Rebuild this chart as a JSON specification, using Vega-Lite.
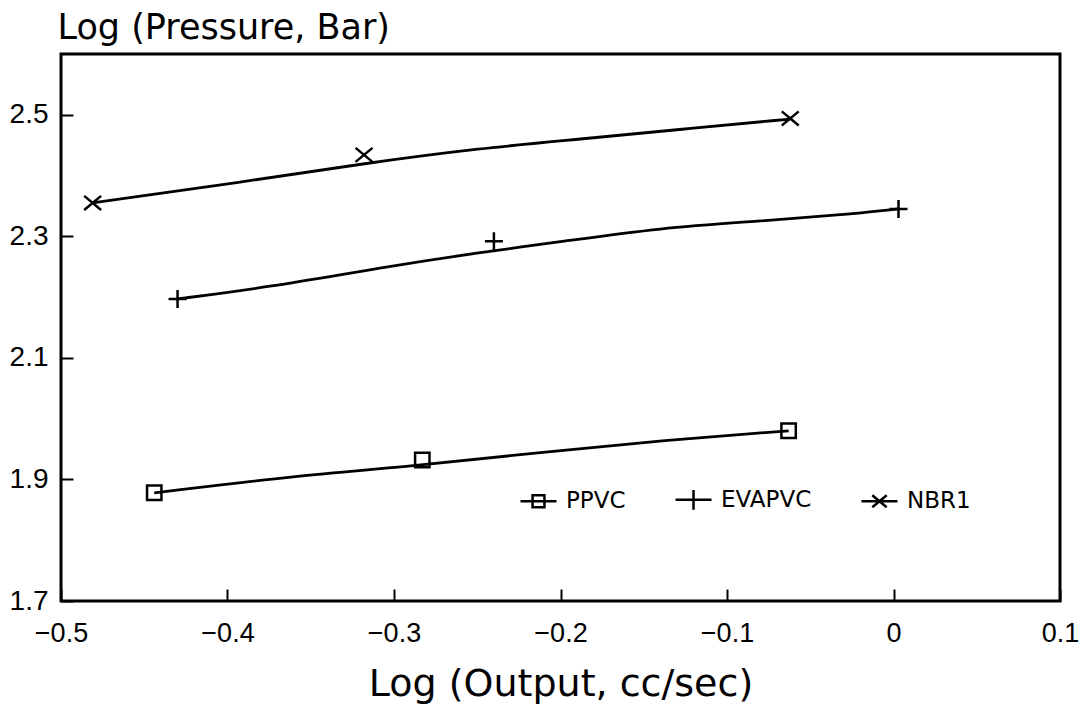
{
  "$schema": "https://vega.github.io/schema/vega-lite/v6.json",
  "width": 999,
  "height": 547,
  "autosize": {"type": "none"},
  "padding": {"left": 61, "top": 54, "right": 25, "bottom": 105},
  "background": "white",
  "config": {
    "view": {"stroke": "black", "strokeWidth": 3},
    "font": "DejaVu Sans"
  },
  "resolve": {"scale": {"shape": "independent"}, "legend": {"shape": "independent"}},
  "datasets": {
    "curves": [
      {"series": "NBR1", "x": -0.481, "y": 2.355},
      {"series": "NBR1", "x": -0.392, "y": 2.389},
      {"series": "NBR1", "x": -0.318, "y": 2.42},
      {"series": "NBR1", "x": -0.248, "y": 2.445},
      {"series": "NBR1", "x": -0.188, "y": 2.46},
      {"series": "NBR1", "x": -0.128, "y": 2.476},
      {"series": "NBR1", "x": -0.062, "y": 2.493},
      {"series": "EVAPVC", "x": -0.43, "y": 2.197},
      {"series": "EVAPVC", "x": -0.376, "y": 2.216},
      {"series": "EVAPVC", "x": -0.307, "y": 2.249},
      {"series": "EVAPVC", "x": -0.247, "y": 2.274},
      {"series": "EVAPVC", "x": -0.2, "y": 2.291},
      {"series": "EVAPVC", "x": -0.14, "y": 2.314},
      {"series": "EVAPVC", "x": -0.08, "y": 2.325},
      {"series": "EVAPVC", "x": -0.02, "y": 2.338},
      {"series": "EVAPVC", "x": 0.003, "y": 2.345},
      {"series": "PPVC", "x": -0.444, "y": 1.878},
      {"series": "PPVC", "x": -0.356, "y": 1.907},
      {"series": "PPVC", "x": -0.296, "y": 1.92},
      {"series": "PPVC", "x": -0.217, "y": 1.943},
      {"series": "PPVC", "x": -0.136, "y": 1.965},
      {"series": "PPVC", "x": -0.063, "y": 1.98}
    ],
    "points": [
      {"series": "PPVC", "x": -0.444, "y": 1.878},
      {"series": "PPVC", "x": -0.283, "y": 1.932},
      {"series": "PPVC", "x": -0.063, "y": 1.98},
      {"series": "EVAPVC", "x": -0.43, "y": 2.197},
      {"series": "EVAPVC", "x": -0.24, "y": 2.292},
      {"series": "EVAPVC", "x": 0.003, "y": 2.345},
      {"series": "NBR1", "x": -0.481, "y": 2.355},
      {"series": "NBR1", "x": -0.318, "y": 2.434},
      {"series": "NBR1", "x": -0.062, "y": 2.494}
    ]
  },
  "encoding": {
    "x": {
      "field": "x",
      "type": "quantitative",
      "scale": {"domain": [-0.5, 0.1], "nice": false, "zero": false},
      "axis": {
        "values": [-0.5, -0.4, -0.3, -0.2, -0.1, 0, 0.1],
        "format": "~g",
        "title": "Log (Output, cc/sec)",
        "titleFont": "DejaVu Sans",
        "titleFontSize": 38,
        "titleFontWeight": "normal",
        "titleColor": "black",
        "titleBaseline": "alphabetic",
        "titleY": 94,
        "domain": false,
        "grid": false,
        "ticks": true,
        "tickSize": -12,
        "tickWidth": 2,
        "tickColor": "black",
        "labelFont": "Liberation Sans",
        "labelFontSize": 27,
        "labelColor": "black",
        "labelPadding": 31,
        "labelFlush": false,
        "labelBaseline": "top"
      }
    },
    "y": {
      "field": "y",
      "type": "quantitative",
      "scale": {"domain": [1.7, 2.6], "nice": false, "zero": false},
      "axis": {
        "values": [1.7, 1.9, 2.1, 2.3, 2.5],
        "format": ".1f",
        "title": "Log (Pressure, Bar)",
        "titleFont": "DejaVu Sans",
        "titleFontSize": 35,
        "titleFontWeight": "normal",
        "titleColor": "black",
        "titleAngle": 0,
        "titleAlign": "left",
        "titleBaseline": "alphabetic",
        "titleX": -4,
        "titleY": -16,
        "domain": false,
        "grid": false,
        "ticks": true,
        "tickSize": -12,
        "tickWidth": 2,
        "tickColor": "black",
        "labelFont": "Liberation Sans",
        "labelFontSize": 28,
        "labelColor": "black",
        "labelPadding": 25,
        "labelFlush": false,
        "labelBaseline": "middle"
      }
    }
  },
  "layer": [
    {
      "data": {"name": "curves"},
      "mark": {"type": "line", "color": "black", "strokeWidth": 2.8, "interpolate": "basis"},
      "encoding": {"detail": {"field": "series", "type": "nominal"}}
    },
    {
      "data": {"name": "points"},
      "mark": {"type": "point", "filled": false, "stroke": "black", "strokeWidth": 2.5, "size": 324, "opacity": 1},
      "encoding": {
        "shape": {
          "field": "series",
          "type": "nominal",
          "scale": {
            "domain": ["PPVC", "EVAPVC", "NBR1"],
            "range": [
              "M-0.8,-0.8H0.8V0.8H-0.8Z",
              "M-1,0H1M0,-1V1",
              "M-0.94,-0.78L0.94,0.78M-0.94,0.78L0.94,-0.78"
            ]
          },
          "legend": null
        }
      }
    },
    {
      "data": {"name": "points"},
      "transform": [{"filter": "false"}],
      "mark": {"type": "point", "filled": false, "stroke": "black", "strokeWidth": 2.5, "size": 1296, "opacity": 1},
      "encoding": {
        "shape": {
          "field": "series",
          "type": "nominal",
          "scale": {
            "domain": ["PPVC", "EVAPVC", "NBR1"],
            "range": [
              "M-1,0H1M-0.33,-0.33H0.33V0.33H-0.33Z",
              "M-1,0H1M0,-0.55V0.55",
              "M-1,0H1M-0.4,-0.33L0.4,0.33M-0.4,0.33L0.4,-0.33"
            ]
          },
          "legend": {
            "title": null,
            "orient": "none",
            "legendX": 458,
            "legendY": 426,
            "direction": "horizontal",
            "padding": 0,
            "columnPadding": 44,
            "labelOffset": 8,
            "labelFont": "DejaVu Sans",
            "labelFontSize": 23,
            "labelColor": "black",
            "symbolSize": 1296,
            "symbolStrokeWidth": 2.5,
            "symbolStrokeColor": "black",
            "symbolFillColor": "transparent",
            "symbolOpacity": 1
          }
        }
      }
    }
  ]
}
